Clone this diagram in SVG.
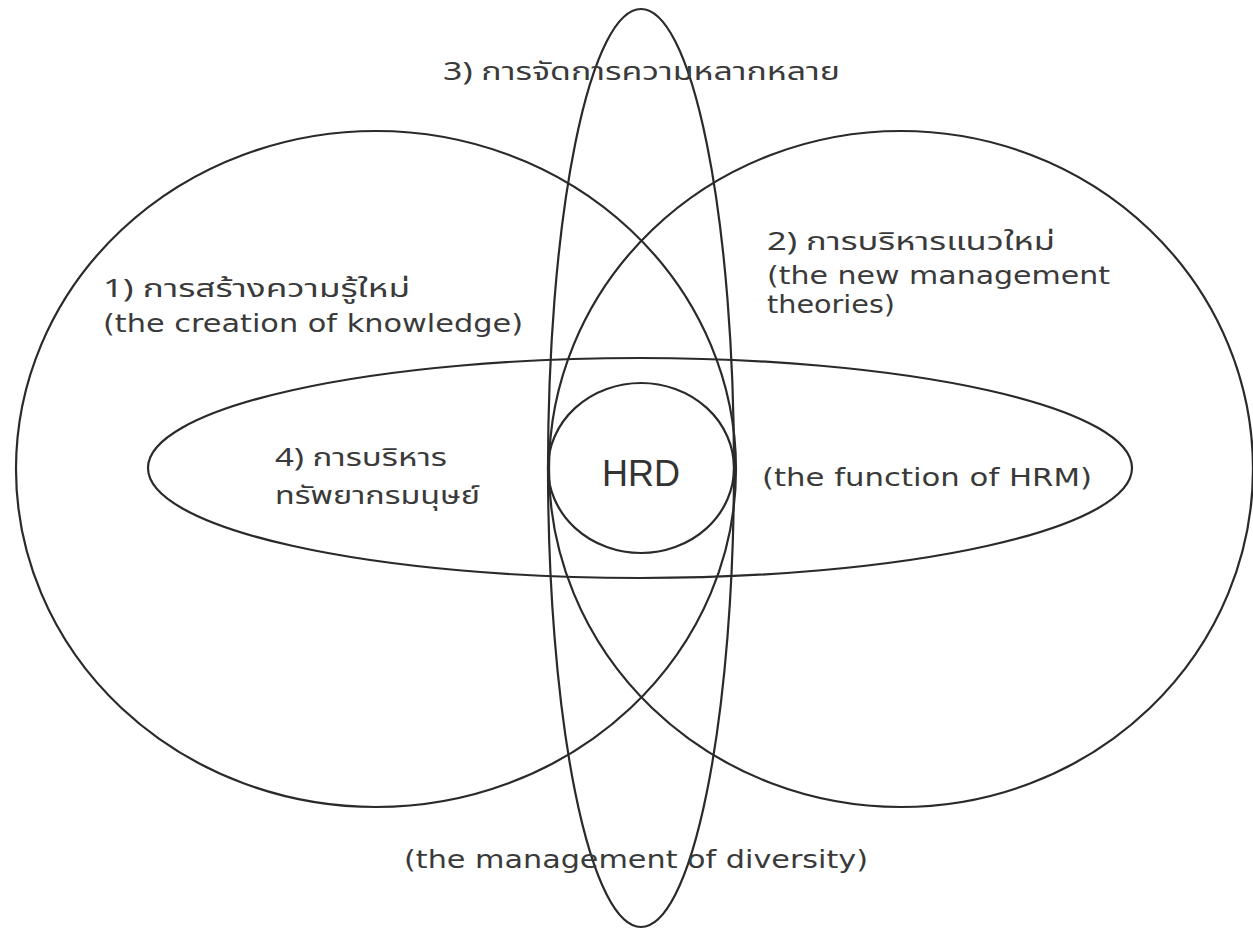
<svg xmlns="http://www.w3.org/2000/svg" width="1253" height="930" viewBox="0 0 1253 930">
<style>
.s{fill:none;stroke:#2a2a2a;stroke-width:2.2}
.t{font-family:"DejaVu Sans","Noto Sans",Tahoma,sans-serif;font-size:25px;fill:#3a3a3a}
.th{font-family:"Noto Sans Thai","DejaVu Sans",Tahoma,sans-serif;font-size:25px;fill:#3a3a3a}
.h{font-family:"Liberation Sans",Arial,sans-serif;font-size:36px;fill:#333}
</style>
<rect width="1253" height="930" fill="#fff"/>
<g id="shapes">
<ellipse id="left-circle" class="s" cx="376" cy="469" rx="360" ry="338"/>
<ellipse id="right-circle" class="s" cx="901" cy="469" rx="352" ry="338"/>
<ellipse id="diversity-ellipse" class="s" cx="641" cy="468" rx="93" ry="459"/>
<ellipse id="hrm-ellipse" class="s" cx="640" cy="468" rx="492" ry="110"/>
<ellipse id="hrd-circle" class="s" cx="641" cy="468" rx="93" ry="85"/>
</g>
<g id="labels">
<text class="th" x="443" y="80" textLength="397" lengthAdjust="spacingAndGlyphs">3) การจัดการความหลากหลาย</text>
<text class="th" x="103" y="297" textLength="307" lengthAdjust="spacingAndGlyphs">1) การสร้างความรู้ใหม่</text>
<text class="t" x="103" y="332" textLength="420" lengthAdjust="spacingAndGlyphs">(the creation of knowledge)</text>
<text class="th" x="767" y="250" textLength="288" lengthAdjust="spacingAndGlyphs">2) การบริหารแนวใหม่</text>
<text class="t" x="767" y="284" textLength="343" lengthAdjust="spacingAndGlyphs">(the new management</text>
<text class="t" x="767" y="313" textLength="128" lengthAdjust="spacingAndGlyphs">theories)</text>
<text class="th" x="275" y="466" textLength="172" lengthAdjust="spacingAndGlyphs">4) การบริหาร</text>
<text class="th" x="275" y="504" textLength="205" lengthAdjust="spacingAndGlyphs">ทรัพยากรมนุษย์</text>
<text class="h" x="641" y="486" text-anchor="middle">HRD</text>
<text class="t" x="762" y="486" textLength="330" lengthAdjust="spacingAndGlyphs">(the function of HRM)</text>
<text class="t" x="404" y="868" textLength="464" lengthAdjust="spacingAndGlyphs">(the management of diversity)</text>
</g>
</svg>
